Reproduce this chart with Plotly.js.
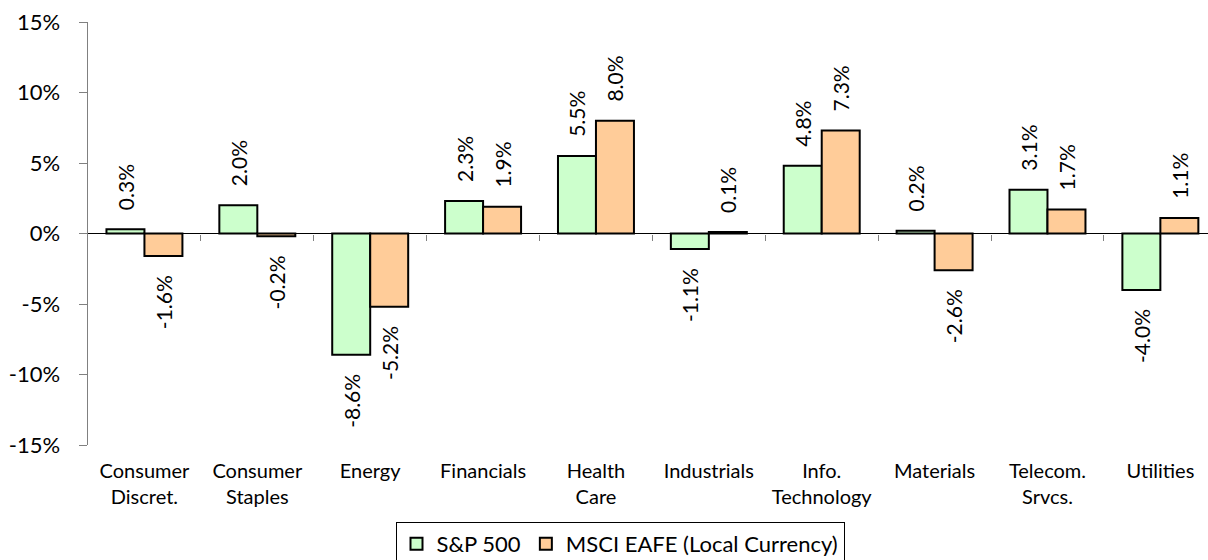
<!DOCTYPE html>
<html>
<head>
<meta charset="utf-8">
<script src="https://cdn.plot.ly/plotly-3.0.1.min.js"></script>
<style>html,body{margin:0;padding:0;background:#fff;}#chart{width:1208px;height:560px;}</style>
</head>
<body>
<div id="chart"></div>
<script>
const categories = ["Consumer<br>Discret.", "Consumer<br>Staples", "Energy", "Financials", "Health<br>Care", "Industrials", "Info.<br>Technology", "Materials", "Telecom.<br>Srvcs.", "Utilities"];
const sp500 = [0.3, 2.0, -8.6, 2.3, 5.5, -1.1, 4.8, 0.2, 3.1, -4.0];
const eafe = [-1.6, -0.2, -5.2, 1.9, 8.0, 0.1, 7.3, -2.6, 1.7, 1.1];
const seriesNames = ["S&P 500", "MSCI EAFE (Local Currency)"];
const yTickVals = [-15, -10, -5, 0, 5, 10, 15];

const FONT = "Lato, 'DejaVu Sans', sans-serif";
const idx = categories.map((_, i) => i);
const pad = "\u00A0\u00A0\u00A0";
function labels(vals) {
  return vals.map(v => v >= 0 ? pad + v.toFixed(1) + "%" : v.toFixed(1) + "%" + pad);
}
function barTrace(vals, name, color) {
  return {
    type: "bar", x: idx, y: vals, name: name,
    marker: {color: color, line: {color: "#000", width: 2}},
    text: labels(vals), textposition: "outside", textangle: -90,
    constraintext: "none",
    textfont: {family: FONT, size: 21, color: "#000"},
    cliponaxis: false, hoverinfo: "skip"
  };
}
const boundaries = idx.slice(0, -1).map(i => i + 0.5);
const data = [
  barTrace(sp500, seriesNames[0], "#CCFFCC"),
  barTrace(eafe, seriesNames[1], "#FFCC99"),
  {type: "scatter", x: [0], y: [0], xaxis: "x2", yaxis: "y", mode: "markers",
   marker: {opacity: 0}, showlegend: false, hoverinfo: "skip"}
];
const xr = [-0.5, 9.422];
const layout = {
  width: 1208, height: 560,
  margin: {l: 88, r: 0, t: 22, b: 115, autoexpand: false},
  paper_bgcolor: "#fff", plot_bgcolor: "#fff",
  font: {family: FONT, color: "#000"},
  barmode: "group", bargap: 0.327, bargroupgap: 0,
  xaxis: {
    range: xr, tickvals: idx, ticktext: categories,
    showgrid: false, zeroline: false, showline: false, ticks: "",
    ticklabelstandoff: 12,
    tickfont: {family: FONT, size: 20, color: "#000"}, fixedrange: true
  },
  xaxis2: {
    overlaying: "x", anchor: "free", position: 0.5, range: xr,
    tickvals: boundaries, ticks: "outside", ticklen: 6, tickcolor: "#808080", tickwidth: 1,
    showticklabels: false, showgrid: false, zeroline: false, showline: false, side: "bottom"
  },
  yaxis: {
    range: [-15, 15], tickvals: yTickVals, ticktext: yTickVals.map(v => v + "%"),
    showgrid: false, zeroline: true, zerolinecolor: "#000", zerolinewidth: 1,
    showline: true, linecolor: "#808080", linewidth: 1.5,
    ticks: "outside", ticklen: 8, tickcolor: "#808080", tickwidth: 1,
    ticklabelstandoff: 14,
    tickfont: {family: FONT, size: 22, color: "#000"}, fixedrange: true
  },
  showlegend: true,
  legend: {
    orientation: "h", x: 0.475, xanchor: "center", y: -0.182, yanchor: "top",
    bordercolor: "#000", borderwidth: 1, bgcolor: "#fff",
    font: {family: FONT, size: 22, color: "#000"},
    itemsizing: "constant", traceorder: "normal"
  }
};
Plotly.newPlot("chart", data, layout, {displayModeBar: false, staticPlot: true});
</script>
</body>
</html>
